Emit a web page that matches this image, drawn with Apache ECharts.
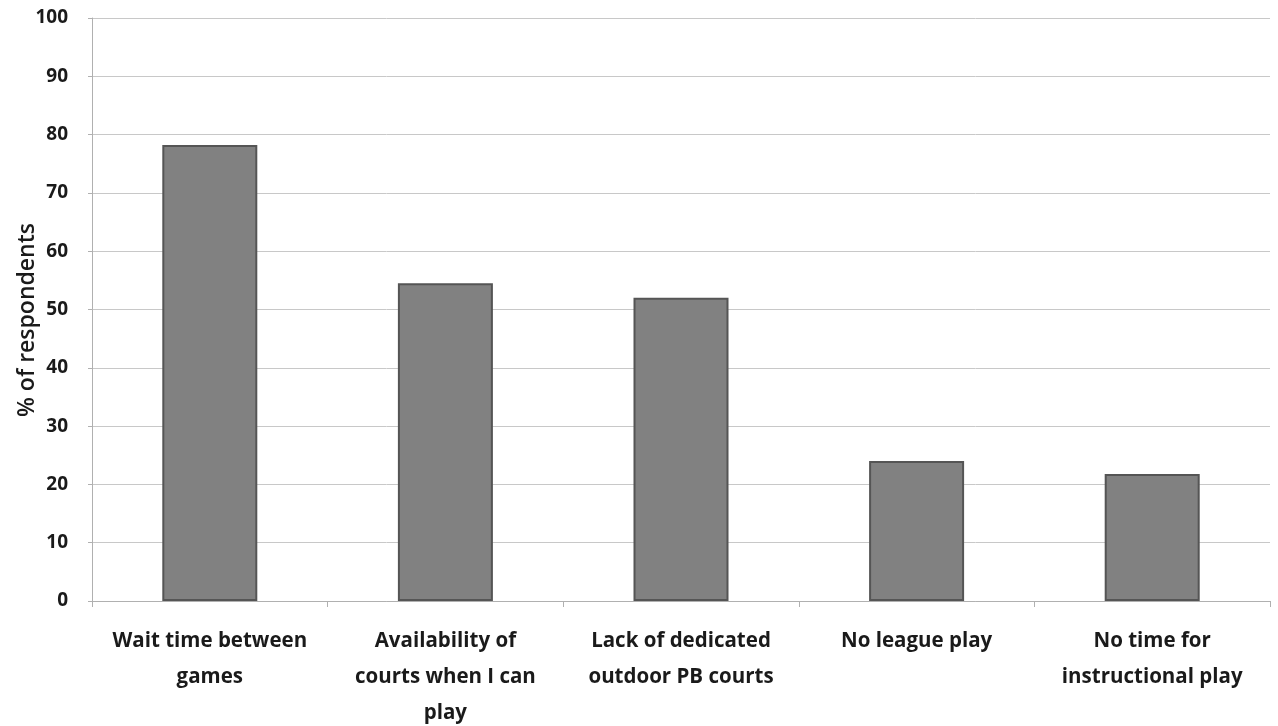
<!DOCTYPE html>
<html><head><meta charset="utf-8">
<script src="https://cdn.jsdelivr.net/npm/echarts@6/dist/echarts.min.js"></script>
<style>html,body{margin:0;padding:0;background:#fff}#c{width:1278px;height:726px}</style>
</head><body><div id="c"></div>
<script>
const categories = ["Wait time between\ngames", "Availability of\ncourts when I can\nplay", "Lack of dedicated\noutdoor PB courts", "No league play", "No time for\ninstructional play"];
const values = [78.2, 54.5, 52.0, 24.0, 21.8];
const yTicks = {min: 0, max: 100, interval: 10};
const yAxisName = '% of respondents';
const chart = echarts.init(document.getElementById('c'));
chart.setOption({
  animation: false,
  grid: {left: 92, right: 8, top: 18, bottom: 125, containLabel: false, outerBoundsMode: 'none'},
  graphic: [{
    type: 'text', x: 27, y: 320, rotation: Math.PI / 2,
    style: {text: yAxisName, fill: '#1a1a1a', font: '600 23px "Open Sans"', align: 'center', verticalAlign: 'middle'}
  }],
  xAxis: {
    type: 'category', data: categories,
    axisLine: {lineStyle: {color: '#b0b0b0', width: 1}},
    axisTick: {show: true, alignWithLabel: false, length: 6, lineStyle: {color: '#b0b0b0'}},
    axisLabel: {interval: 0, color: '#1a1a1a', fontFamily: 'Open Sans', fontWeight: 'bold', fontSize: 20.5, lineHeight: 36, margin: 22}
  },
  yAxis: {
    type: 'value', min: yTicks.min, max: yTicks.max, interval: yTicks.interval,
    axisLine: {show: true, lineStyle: {color: '#b0b0b0'}},
    axisTick: {show: true, length: 4, lineStyle: {color: '#b0b0b0'}},
    splitLine: {lineStyle: {color: '#c8c8c8', width: 1}},
    axisLabel: {color: '#1a1a1a', fontFamily: 'Open Sans', fontWeight: 'bold', fontSize: 19, margin: 24}
  },
  series: [{
    type: 'bar', data: values, barWidth: 95,
    itemStyle: {color: '#818181', borderColor: '#555', borderWidth: 2}
  }]
});
</script></body></html>
